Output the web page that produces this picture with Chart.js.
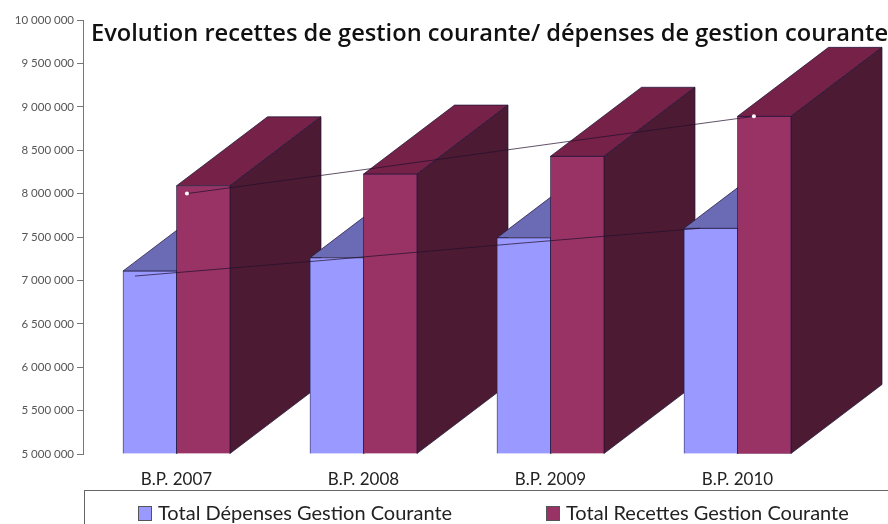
<!DOCTYPE html>
<html lang="fr">
<head>
<meta charset="utf-8">
<title>Evolution recettes / dépenses</title>
<script src="https://cdn.jsdelivr.net/npm/chart.js@4"></script>
<style>
    body { margin: 0; background: #fff; }
    #wrap { position: relative; width: 888px; height: 524px; overflow: hidden; }
    #titre {
        position: absolute; left: 91px; top: 16px; white-space: nowrap;
        font: 600 23.65px "Open Sans", sans-serif; color: #111;
    }
    #legende {
        position: absolute; left: 84px; top: 490px; width: 900px; height: 60px;
        border: 1px solid #666; box-sizing: border-box;
        font: 20px Lato, sans-serif; color: #222;
    }
    #legende span { position: absolute; top: 9px; white-space: nowrap; }
    #legende i {
        display: inline-block; width: 14px; height: 15px; margin-right: 6px;
        border: 1px solid #555; box-sizing: border-box; vertical-align: -1px;
    }
</style>
</head>
<body>
<div id="wrap">
    <canvas id="graphique" width="888" height="524"></canvas>
    <div id="titre"></div>
    <div id="legende"></div>
</div>
<script>
const titre = "Evolution recettes de gestion courante/ dépenses de gestion courante";
const categories = ["B.P. 2007", "B.P. 2008", "B.P. 2009", "B.P. 2010"];
const nomDepenses = "Total Dépenses Gestion Courante";
const nomRecettes = "Total Recettes Gestion Courante";
const depenses = [7108000, 7260000, 7490000, 7600000];
const recettes = [8090000, 8225000, 8430000, 8890000];
const courbeDepenses = [7050000, 7230000, 7420000, 7600000];
const courbeRecettes = [8000000, 8295000, 8595000, 8890000];
const pointsCourbe = [2, 0, 0, 2];

// COULEURS DES BARRES : face, dessus, cote
const couleursDepenses = ["#9999ff", "#6b6bb5", "#4d1a33"];
const couleursRecettes = ["#993366", "#752148", "#4d1a33"];
const contour = "#1c1438";

// PROFONDEUR DU FAUX 3D
const profX = 91;
const profY = 69;

function polygone(ctx, pts, couleur) {
    ctx.beginPath();
    pts.forEach((p, i) => i ? ctx.lineTo(p[0], p[1]) : ctx.moveTo(p[0], p[1]));
    ctx.closePath();
    ctx.fillStyle = couleur;
    ctx.fill();
    ctx.lineWidth = 0.7;
    ctx.strokeStyle = contour;
    ctx.stroke();
}

function dessinerVolume(ctx, barre, couleurs) {
    const g = barre.x - barre.width / 2;
    const d = barre.x + barre.width / 2;
    const h = barre.y;
    const b = barre.base;
    // dessus
    polygone(ctx, [[g, h], [d, h], [d + profX, h - profY], [g + profX, h - profY]], couleurs[1]);
    // cote
    polygone(ctx, [[d, h], [d + profX, h - profY], [d + profX, b - profY], [d, b]], couleurs[2]);
}

const volume3d = {
    id: "volume3d",
    beforeDatasetsDraw(chart) {
        const ctx = chart.ctx;
        const bleu = chart.getDatasetMeta(2).data;
        const rouge = chart.getDatasetMeta(3).data;
        ctx.save();
        categories.forEach((c, i) => {
            dessinerVolume(ctx, bleu[i], couleursDepenses);
            dessinerVolume(ctx, rouge[i], couleursRecettes);
        });
        ctx.restore();
    }
};

function ligne(valeurs, axe, rayons) {
    return {
        type: "line",
        data: valeurs.map((v, i) => ({ x: i, y: v })),
        xAxisID: axe,
        borderColor: "rgba(35,15,45,0.72)",
        borderWidth: 1,
        pointRadius: rayons,
        pointBackgroundColor: "#fff",
        pointBorderWidth: 0,
        order: 0
    };
}

function barres(nom, valeurs, couleurs) {
    return {
        label: nom,
        data: valeurs,
        base: 5000000,
        backgroundColor: couleurs[0],
        borderColor: contour,
        borderWidth: 0.7,
        barThickness: 53.5,
        order: 1
    };
}

function axeCache(min, max) {
    return { type: "linear", display: false, offset: false, min: min, max: max };
}

new Chart(document.getElementById("graphique"), {
    type: "bar",
    data: {
        labels: categories,
        datasets: [
            ligne(courbeDepenses, "xDepenses", 0),
            ligne(courbeRecettes, "xRecettes", pointsCourbe),
            barres(nomDepenses, depenses, couleursDepenses),
            barres(nomRecettes, recettes, couleursRecettes)
        ]
    },
    options: {
        responsive: false,
        animation: false,
        layout: { padding: { top: 20, right: 57, bottom: 0, left: 0 } },
        plugins: { legend: { display: false }, title: { display: false }, tooltip: { enabled: false } },
        scales: {
            x: {
                afterFit(axe) { axe.height = 70; },
                grid: { display: false },
                border: { display: false },
                ticks: { color: "#222", padding: 7, maxRotation: 0, font: { family: "Lato", size: 17 } }
            },
            xDepenses: axeCache(-0.276, 3.696),
            xRecettes: axeCache(-0.55, 3.408),
            y: {
                min: 5000000,
                max: 10000000,
                afterFit(axe) { axe.width = 83; },
                grid: { drawOnChartArea: false, tickLength: 6, color: "#777" },
                border: { color: "#777", width: 1 },
                ticks: {
                    stepSize: 500000,
                    color: "#555",
                    padding: 3,
                    font: { family: "Lato", size: 11.5 },
                    callback: v => String(v).replace(/\B(?=(\d{3})+$)/g, " ")
                }
            }
        }
    },
    plugins: [volume3d]
});

// TITRE ET LEGENDE
document.getElementById("titre").textContent = titre;
document.getElementById("legende").innerHTML =
    `<span style="left:53px"><i style="background:${couleursDepenses[0]}"></i>${nomDepenses}</span>` +
    `<span style="left:461px"><i style="background:${couleursRecettes[0]}"></i>${nomRecettes}</span>`;
</script>
</body>
</html>
